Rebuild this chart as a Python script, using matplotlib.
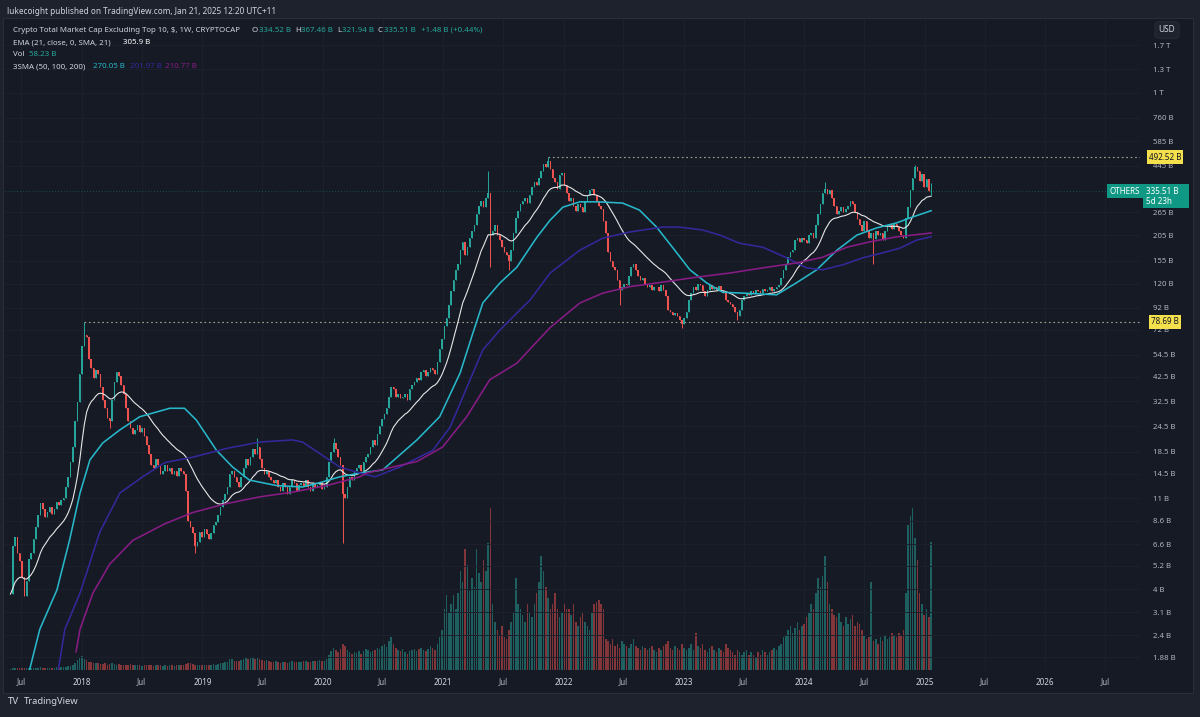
import numpy as np
import pandas as pd
import matplotlib
matplotlib.use("Agg")
import matplotlib.pyplot as plt
from matplotlib.patches import Rectangle
from matplotlib.ticker import NullLocator

plt.rcParams['font.family'] = ['Noto Sans', 'DejaVu Sans']

# weekly closes (billions USD), grouped by ~1 year of bars
c17 = [3.8, 6.5, 7.2, 6.0, 5.5, 4.6, 3.7, 4.4, 5.6, 6.0, 7.0, 8.0, 9.2, 10.5, 9.8, 9.0,
       9.5, 10.0, 9.3, 9.8, 10.6, 10.2, 10.8, 11.0, 12.5, 14.0, 16.5, 19.5, 26, 32, 44, 60]
c18 = [68, 66, 52, 47, 42, 46, 44, 38, 33, 30, 27, 26, 33, 40, 45, 43, 39, 35, 30, 26,
       24, 22.5, 23.5, 25, 23, 24, 22, 20, 18, 16, 15.5, 17, 16, 14.5, 15, 16, 15, 15.5, 14.5, 15,
       14.2, 15.5, 15, 14.5, 12, 8.6, 8.0, 7.5, 6.5, 6.8, 7.6, 7.2]
c19 = [7.8, 7.4, 7.0, 7.5, 8.2, 8.5, 9.2, 10.0, 10.8, 11.5, 12.5, 14.5, 15.0, 14.0, 13.2, 12.5,
       14.0, 15.5, 17.0, 16.0, 17.5, 19.0, 18.0, 19.5, 17.0, 15.5, 14.5, 15.0, 14.0, 13.5,
       13.0, 13.5, 12.5, 12.0, 13.0, 12.5, 11.5, 12.5, 13.5, 13.0, 12.0, 12.8, 13.0, 12.6,
       13.5, 12.5, 12.0, 13.0, 12.5, 12.8, 13.2, 12.2, 12.5, 14.0]
c20 = [16.5, 18.5, 20.5, 19.0, 17.5, 16.0, 11.5, 11.0, 12.5, 14.0, 13.5, 15.0, 15.5, 16.0,
       15.0, 16.5, 17.5, 18.0, 19.5, 21.0, 20.0, 22.5, 24.5, 26.5, 28.0, 30.0, 34.0, 38.0,
       37.0, 34.0, 35.0, 33.5, 34.0, 35.0, 33.0, 37.0, 39.0, 40.0, 42.0, 41.0, 45.0, 46.0,
       43.0, 45.0, 47.0, 46.0, 44.0, 50.0, 58.0, 65.0, 75.0, 82.0]
c21 = [95, 110, 125, 140, 150, 175, 190, 165, 180, 200, 215, 230, 260, 285, 300, 280, 310, 330,
       205, 215, 230, 205, 195, 180, 170, 165, 155, 175, 210, 250, 270, 290, 300, 310, 295, 320,
       350, 370, 360, 390, 420, 455, 440, 470, 430, 390, 370, 345, 400, 410, 360, 330]
c22 = [300, 310, 285, 270, 290, 280, 265, 300, 320, 340, 345, 320, 300, 285, 275, 240, 210, 170,
       155, 145, 140, 125, 112, 115, 120, 118, 130, 145, 150, 140, 130, 125, 128, 120, 115, 118,
       112, 115, 116, 110, 118, 112, 105, 90, 88, 85, 87, 84, 80, 77, 82, 88]
c23 = [100, 108, 115, 112, 120, 118, 110, 105, 112, 118, 113, 115, 112, 117, 110, 108, 100, 98,
       96, 93, 88, 84, 90, 100, 105, 108, 106, 110, 108, 112, 110, 108, 113, 110, 112, 115, 111,
       113, 116, 118, 128, 140, 150, 162, 170, 175, 195, 200, 190, 200, 195, 188]
c24 = [205, 210, 200, 230, 260, 290, 330, 345, 325, 340, 310, 285, 260, 270, 280, 265, 275, 285,
       300, 290, 265, 245, 230, 215, 240, 215, 200, 210, 198, 215, 205, 210, 195, 215, 225, 230,
       220, 232, 225, 215, 205, 200, 250, 280, 340, 390, 440, 420, 375, 405, 350, 385]
c25 = [334.5, 335.51]

# weekly volume (billions USD)
v17 = [0.6, 0.8, 0.9, 0.7, 0.8, 0.9, 1.0, 0.8, 0.7, 0.9, 1.0, 0.9, 1.1, 1.2, 1.0, 0.9,
       1.0, 1.1, 0.9, 1.0, 1.2, 1.1, 1.3, 1.2, 1.5, 1.8, 2.0, 2.5, 3.0, 4.5, 5.5, 6.5]
v18 = [5.0, 4.5, 3.8, 3.5, 3.2, 3.0, 3.4, 2.8, 2.6, 3.0, 2.5, 2.9, 3.1, 2.7, 2.4, 2.6, 2.3, 2.5,
       2.2, 2.4, 2.6, 2.3, 2.1, 2.4, 2.2, 2.0, 2.3, 2.1, 2.5, 2.2, 2.0, 2.4, 2.3, 2.1, 1.9, 2.2,
       2.0, 2.3, 2.1, 2.0, 2.2, 2.4, 2.1, 2.3, 2.6, 3.4, 3.0, 2.8, 2.5, 2.2, 2.4, 2.1]
v19 = [2.3, 2.2, 2.5, 2.3, 2.6, 2.4, 2.8, 3.0, 3.2, 3.5, 3.8, 5.0, 4.8, 4.2, 3.9, 4.0, 4.5, 5.2,
       5.8, 5.0, 5.5, 6.0, 5.2, 5.8, 5.0, 4.6, 4.2, 4.4, 3.9, 3.8, 3.6, 3.9, 3.5, 3.4, 3.8, 3.6,
       3.3, 3.7, 4.0, 3.8, 3.5, 3.7, 3.6, 3.9, 4.1, 3.8, 3.6, 4.0, 3.9, 4.2, 4.4, 4.0, 4.3, 5.0]
v20 = [7.0, 8.5, 10.0, 9.0, 8.2, 9.5, 12.0, 11.0, 9.0, 8.0, 7.5, 8.0, 7.8, 8.5, 7.2, 8.8, 9.5,
       9.0, 8.0, 8.5, 9.0, 10.0, 9.5, 11.0, 12.0, 10.5, 13.0, 15.0, 12.0, 10.0, 9.0, 8.5, 9.5,
       8.0, 7.5, 8.5, 9.0, 9.5, 8.8, 9.5, 10.0, 9.0, 8.5, 9.5, 11.0, 10.0, 9.0, 12.0, 15.0, 18.0,
       28.0, 34.0]
v21 = [26, 30, 34, 28, 35, 45, 40, 55, 48, 36, 42, 38, 55, 44, 40, 50, 45, 58, 74, 30,
       22, 18, 16, 20, 15, 14, 18, 22, 26, 42, 30, 28, 25, 22, 30, 26, 24, 30, 35, 40,
       52, 45, 38, 33, 28, 30, 35, 28, 24, 26, 30, 28]
v22 = [28, 25, 30, 22, 20, 24, 26, 22, 20, 18, 26, 30, 31, 32, 30, 28, 14, 13, 12, 14,
       11, 12, 10, 13, 12, 11, 10, 12, 14, 11, 10, 9, 11, 10, 9, 10, 11, 9, 8, 10,
       9, 11, 12, 13, 10, 9, 11, 10, 9, 12, 10, 9]
v23 = [10, 12, 9, 17, 11, 10, 12, 9, 8, 10, 11, 9, 8, 10, 9, 8, 12, 10, 9, 8,
       7, 9, 8, 7, 8, 9, 7, 8, 7, 6, 8, 7, 9, 8, 7, 8, 9, 10, 9, 11,
       12, 15, 16, 18, 20, 17, 19, 22, 18, 20, 21, 24]
v24 = [26, 30, 28, 35, 42, 38, 43, 52, 40, 30, 28, 25, 24, 26, 22, 20, 24, 21, 23, 25,
       20, 22, 21, 18, 16, 14, 15, 40, 13, 14, 12, 15, 13, 16, 14, 15, 17, 16, 15, 17,
       16, 18, 35, 66, 70, 74, 60, 50, 35, 30, 25, 28]
v25 = [24, 58.23]

# notable wicks: bar index -> (high, low)
wicks = {32: (78.69, None), 43: (None, 24), 80: (None, 6.0), 107: (21.5, None),
         140: (21.5, None), 144: (None, 6.7), 207: (420, None), 208: (None, 145),
         216: (None, 140), 233: (492.52, None), 264: (None, 95), 291: (None, 73),
         315: (None, 80), 353: (370, None), 374: (None, 150), 392: (450, None),
         399: (367.46, 321.94)}
last_open = 334.52

# moving averages
sma50_dates = ['2017-07-20', '2017-08-26', '2017-10-17', '2017-11-24', '2017-12-26', '2018-01-25',
               '2018-03-05', '2018-04-26', '2018-06-25', '2018-09-24', '2018-11-08', '2018-12-14',
               '2019-02-13', '2019-04-03', '2019-05-24', '2019-08-14', '2019-11-01', '2019-12-22',
               '2020-02-22', '2020-04-23', '2020-07-01', '2020-10-13', '2020-12-21', '2021-02-21',
               '2021-04-01', '2021-05-01', '2021-06-22', '2021-08-12', '2021-10-12', '2021-11-21',
               '2021-12-30', '2022-02-19', '2022-04-17', '2022-06-29', '2022-08-19', '2022-10-10',
               '2022-11-27', '2023-01-19', '2023-03-11', '2023-04-29', '2023-06-29', '2023-10-09',
               '2023-12-08', '2024-02-08', '2024-04-09', '2024-06-09', '2024-08-08', '2024-10-08',
               '2024-11-16', '2025-01-20']
sma50_vals = [1.5, 2.57, 3.98, 6.9, 11.7, 16.9, 20.4, 23.6, 27.3, 30.0, 30.0, 26.3, 18.8, 15.6,
              13.5, 12.7, 12.5, 13.1, 14.0, 14.6, 15.1, 21.1, 27.3, 44.4, 69.4, 96.9, 121, 144,
              201, 243, 281, 298, 298, 294, 272, 225, 180, 140, 121, 109, 108, 106, 121, 140,
              174, 206, 223, 236, 249, 270.05]
sma100_dates = ['2017-10-20', '2017-11-10', '2017-12-26', '2018-02-24', '2018-04-26', '2018-07-04',
                '2018-09-09', '2018-12-02', '2019-03-16', '2019-06-24', '2019-10-01', '2019-11-01',
                '2019-12-22', '2020-02-22', '2020-04-23', '2020-06-08', '2020-08-22', '2020-11-30',
                '2021-01-21', '2021-03-13', '2021-05-01', '2021-06-22', '2021-08-30', '2021-09-21',
                '2021-11-21', '2022-02-19', '2022-04-30', '2022-07-20', '2022-10-28', '2022-12-19',
                '2023-02-26', '2023-04-20', '2023-06-19', '2023-08-28', '2023-11-08', '2024-01-08',
                '2024-02-26', '2024-04-27', '2024-06-27', '2024-08-26', '2024-10-17', '2024-12-08',
                '2025-01-20']
sma100_vals = [1.6, 2.57, 3.84, 7.57, 11.7, 14.0, 16.4, 17.4, 19.2, 20.6, 21.1, 20.6, 18.2, 15.6,
               14.6, 14.0, 15.6, 18.8, 24.2, 37.7, 57.4, 71.7, 92.4, 99.8, 135, 174, 199, 213,
               225, 225, 218, 206, 188, 180, 160, 143, 140, 148, 160, 169, 178, 195, 201.97]
sma200_dates = ['2017-12-14', '2017-12-26', '2018-02-03', '2018-03-26', '2018-06-04', '2018-09-09',
                '2018-12-02', '2019-03-16', '2019-06-24', '2019-10-01', '2020-01-13', '2020-04-23',
                '2020-05-14', '2020-10-13', '2020-12-30', '2021-03-13', '2021-05-22', '2021-08-12',
                '2021-11-21', '2022-02-19', '2022-04-30', '2022-07-20', '2022-10-28', '2023-02-09',
                '2023-05-20', '2023-08-28', '2023-12-08', '2024-02-26', '2024-05-10', '2024-07-18',
                '2024-10-08', '2025-01-20']
sma200_vals = [2.0, 2.57, 3.84, 5.3, 6.9, 8.3, 9.4, 10.4, 11.2, 11.8, 12.7, 14.0, 14.6, 16.6,
               19.5, 27.3, 41.2, 49.5, 73.6, 96.7, 108, 116, 122, 129, 135, 143, 151, 161, 180,
               191, 202, 210.77]

ytick_vals = [1.88, 2.4, 3.1, 4, 5.2, 6.6, 8.6, 11, 14.5, 18.5, 24.5, 32.5, 42.5, 54.5, 72, 92,
              120, 155, 205, 265, 445, 585, 760, 1000, 1300, 1700]
ytick_labels = ['1.88 B', '2.4 B', '3.1 B', '4 B', '5.2 B', '6.6 B', '8.6 B', '11 B', '14.5 B',
                '18.5 B', '24.5 B', '32.5 B', '42.5 B', '54.5 B', '72 B', '92 B', '120 B', '155 B',
                '205 B', '265 B', '445 B', '585 B', '760 B', '1 T', '1.3 T', '1.7 T']
time_ticks = ['2017-07-01', '2018-01-01', '2018-07-01', '2019-01-01', '2019-07-01', '2020-01-01',
              '2020-07-01', '2021-01-01', '2021-07-01', '2022-01-01', '2022-07-01', '2023-01-01',
              '2023-07-01', '2024-01-01', '2024-07-01', '2025-01-01', '2025-07-01', '2026-01-01',
              '2026-07-01']
time_labels = ['Jul', '2018', 'Jul', '2019', 'Jul', '2020', 'Jul', '2021', 'Jul', '2022', 'Jul',
               '2023', 'Jul', '2024', 'Jul', '2025', 'Jul', '2026', 'Jul']

# ---- build series
closes = np.array(c17 + c18 + c19 + c20 + c21 + c22 + c23 + c24 + c25, dtype=float)
volume = np.array(v17 + v18 + v19 + v20 + v21 + v22 + v23 + v24 + v25, dtype=float)
dates = pd.date_range(end='2025-01-20', periods=len(closes), freq='7D')
opens = np.r_[closes[0], closes[:-1]]
opens[-1] = last_open
highs = np.maximum(opens, closes)
lows = np.minimum(opens, closes)
for i, (h, l) in wicks.items():
    if h is not None:
        highs[i] = h
    if l is not None:
        lows[i] = l
ema21 = pd.Series(closes).ewm(span=21, adjust=False).mean().values

UP, DOWN = '#26a69a', '#ef5350'
up = closes >= opens
cols = np.where(up, UP, DOWN)

BG = '#161a25'
OUTER = '#1e222d'
TXT = '#d1d4dc'
AX_TXT = '#b2b5be'
C50, C100, C200 = '#27b7c9', '#33289a', '#871c84'
W, H = 1200, 717


def fx(px):
    return px / W


def fy(py):
    return 1 - py / H


fig = plt.figure(figsize=(12, 7.17), dpi=100, facecolor=OUTER)
fig.patches.append(Rectangle((fx(3), fy(693)), fx(1193) - fx(3), fy(18) - fy(693),
                             transform=fig.transFigure, facecolor=BG, edgecolor='#2a2e39',
                             lw=0.8, zorder=-5))

rect = [fx(5), fy(670), fx(1140) - fx(5), fy(20) - fy(670)]
ax_v = fig.add_axes(rect)
ax = fig.add_axes(rect, sharex=ax_v)
for a in (ax_v, ax):
    a.set_facecolor('none')
    for s in a.spines.values():
        s.set_visible(False)

x_left = pd.Timestamp('2018-01-01') - pd.Timedelta(days=233.6)
x_right = pd.Timestamp('2018-01-01') + pd.Timedelta(days=3209.6)

# volume
ax_v.bar(dates, volume, width=4.6, color=cols, alpha=0.5, linewidth=0)
ax_v.set_ylim(0, 296)
ax_v.set_yticks([])
ax_v.tick_params(axis='x', length=0, labelbottom=False)
for t in time_ticks:
    ax_v.axvline(pd.Timestamp(t), color='#1d212d', lw=0.7, zorder=0)

# price pane
ax.set_yscale('log')
ax.set_ylim(1.633, 2252)
ax.set_xlim(x_left, x_right)
for v in ytick_vals:
    ax.axhline(v, color='#1d212d', lw=0.7, zorder=0)

ax.vlines(dates, lows, highs, colors=cols, lw=0.7, zorder=3)
body_h = np.maximum(np.abs(closes - opens), closes * 0.004)
ax.bar(dates, body_h, bottom=np.minimum(opens, closes), width=4.6, color=cols,
       linewidth=0, zorder=4)

ax.plot(dates, ema21, color='#e6e6e6', lw=0.8, zorder=5)
ax.plot(pd.to_datetime(sma50_dates), sma50_vals, color=C50, lw=1.15, zorder=5)
ax.plot(pd.to_datetime(sma100_dates), sma100_vals, color=C100, lw=1.15, zorder=5)
ax.plot(pd.to_datetime(sma200_dates), sma200_vals, color=C200, lw=1.15, zorder=5)

# horizontal levels
ax.hlines(492.52, dates[233], x_right, colors='#a9a68f', lw=0.8, linestyles=(0, (1.5, 2.5)),
          zorder=2)
ax.hlines(78.69, dates[32], x_right, colors='#a9a68f', lw=0.8, linestyles=(0, (1.5, 2.5)),
          zorder=2)
ax.axhline(closes[-1], color='#16806f', lw=0.6, ls=(0, (1, 2.5)), alpha=0.7, zorder=2)

ax.yaxis.tick_right()
ax.set_yticks(ytick_vals)
ax.set_yticklabels(ytick_labels)
ax.yaxis.set_minor_locator(NullLocator())
ax.tick_params(axis='y', length=0, pad=9.5, labelcolor=AX_TXT, labelsize=5.6)
ax.tick_params(axis='x', length=0, labelbottom=False)

for t, lab in zip(time_ticks, time_labels):
    bold = lab != 'Jul'
    ax.text(pd.Timestamp(t), -0.0185, lab, transform=ax.get_xaxis_transform(),
            ha='center', va='center', fontsize=5.8, color=TXT if bold else AX_TXT,
            fontweight='bold' if bold else 'normal')

# price labels on the axis
fig.text(fx(1165), fy(157), '492.52 B', ha='center', va='center', fontsize=5.8, color='#131722',
         bbox=dict(boxstyle='square,pad=0.25', facecolor='#f4e04d', edgecolor='none'), zorder=10)
fig.text(fx(1165), fy(322), '78.69 B', ha='center', va='center', fontsize=5.8, color='#131722',
         bbox=dict(boxstyle='square,pad=0.25', facecolor='#f4e04d', edgecolor='none'), zorder=10)
fig.patches.append(Rectangle((fx(1143), fy(208)), fx(1189) - fx(1143), fy(184) - fy(208),
                             transform=fig.transFigure, facecolor='#0f9984', edgecolor='none',
                             zorder=9))
fig.text(fx(1146), fy(191), '335.51 B', ha='left', va='center', fontsize=5.8, color='white',
         zorder=10)
fig.text(fx(1146), fy(202), '5d 23h', ha='left', va='center', fontsize=5.8, color='white',
         zorder=10)
fig.text(fx(1125), fy(191), 'OTHERS', ha='center', va='center', fontsize=5.8, color='white',
         bbox=dict(boxstyle='square,pad=0.3', facecolor='#0f9984', edgecolor='none'), zorder=10)
fig.text(fx(1167), fy(30), 'USD', ha='center', va='center', fontsize=6, color=TXT,
         bbox=dict(boxstyle='round,pad=0.45', facecolor=OUTER, edgecolor='#2a2e39', lw=0.6),
         zorder=10)

# header and legend
fig.text(fx(7), fy(11), 'lukecoight published on TradingView.com, Jan 21, 2025 12:20 UTC+11',
         fontsize=5.9, color=TXT, va='center')
FS = 5.7
GREEN = '#26a69a'
row1 = [(13, 'Crypto Total Market Cap Excluding Top 10, \\$, 1W, CRYPTOCAP', TXT),
        (252, 'O', TXT), (259, '334.52 B', GREEN), (295, 'H', TXT), (301, '367.46 B', GREEN),
        (337, 'L', TXT), (342, '321.94 B', GREEN), (378, 'C', TXT), (384, '335.51 B', GREEN),
        (421, '+1.48 B (+0.44%)', GREEN)]
for x, s, c in row1:
    fig.text(fx(x), fy(30), s, fontsize=FS, color=c, va='center')
fig.text(fx(13), fy(43), 'EMA (21, close, 0, SMA, 21)', fontsize=FS, color=TXT, va='center')
fig.text(fx(123), fy(43), '305.9 B', fontsize=FS, color='white', va='center', fontweight='bold')
fig.text(fx(13), fy(55), 'Vol', fontsize=FS, color=TXT, va='center')
fig.text(fx(29), fy(55), '58.23 B', fontsize=FS, color=GREEN, va='center')
fig.text(fx(13), fy(67), '3SMA (50, 100, 200)', fontsize=FS, color=TXT, va='center')
fig.text(fx(93), fy(67), '270.05 B', fontsize=FS, color=C50, va='center')
fig.text(fx(130), fy(67), '201.97 B', fontsize=FS, color=C100, va='center')
fig.text(fx(165), fy(67), '210.77 B', fontsize=FS, color=C200, va='center')

# footer
fig.text(fx(8), fy(701), 'TV', fontsize=7, color=TXT, va='center', fontweight='heavy')
fig.text(fx(24), fy(701), 'TradingView', fontsize=6.8, color=TXT, va='center')

fig.savefig('out.png', dpi=100, facecolor=OUTER)
